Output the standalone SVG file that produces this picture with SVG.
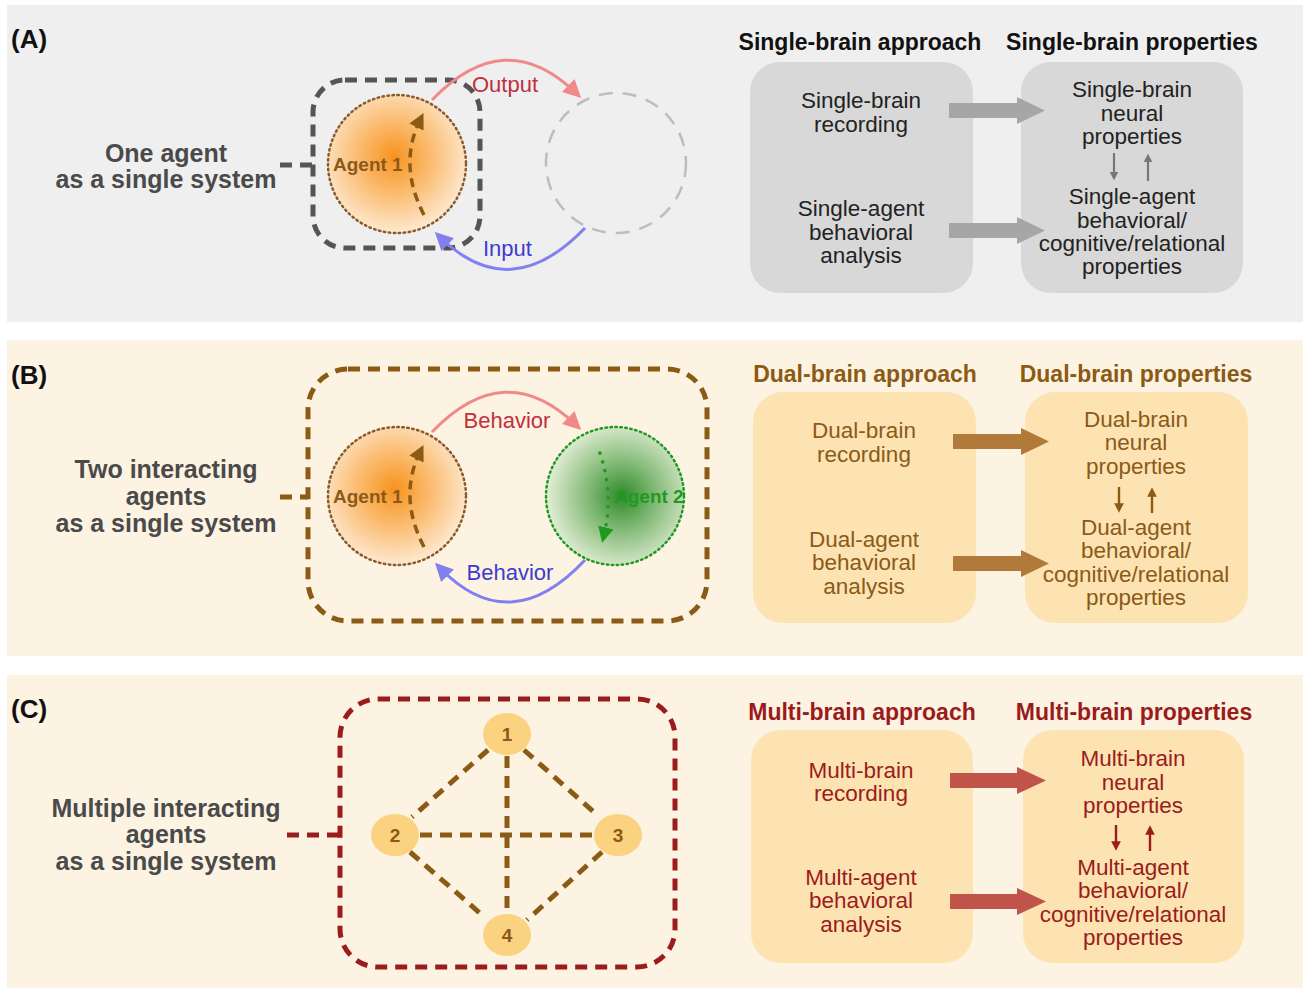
<svg xmlns="http://www.w3.org/2000/svg" width="1313" height="988" viewBox="0 0 1313 988">
<defs>
<style>
text{font-family:"Liberation Sans",Arial,sans-serif}
.lbl{font-size:26px;font-weight:bold;fill:#111}
.side{font-size:25px;font-weight:bold;fill:#4a4a4a;text-anchor:middle}
.ttl{font-size:23px;font-weight:bold;text-anchor:middle}
.bt{font-size:22.5px;text-anchor:middle}
.ag{font-size:19px;font-weight:bold}
.arcl{font-size:22px}
.num{font-size:19px;font-weight:bold;fill:#8b5a1a;text-anchor:middle}
.edge{stroke:#8b5a14;stroke-width:5;stroke-dasharray:12 8;fill:none}
</style>
<radialGradient id="gOr" cx="0.48" cy="0.45" r="0.55">
<stop offset="0" stop-color="#f7931e"/><stop offset="0.5" stop-color="#fbbd73"/><stop offset="1" stop-color="#fde9d0"/>
</radialGradient>
<radialGradient id="gGr" cx="0.55" cy="0.5" r="0.55">
<stop offset="0" stop-color="#2e8a2a"/><stop offset="0.5" stop-color="#8cbf80"/><stop offset="1" stop-color="#e3eed6"/>
</radialGradient>
<marker id="mPink" viewBox="0 0 10 10" refX="6" refY="5" markerWidth="6" markerHeight="6" orient="auto" markerUnits="strokeWidth"><path d="M0,0 L10,5 L0,10 z" fill="#f08a8a"/></marker>
<marker id="mBlue" viewBox="0 0 10 10" refX="6" refY="5" markerWidth="6" markerHeight="6" orient="auto" markerUnits="strokeWidth"><path d="M0,0 L10,5 L0,10 z" fill="#8080f0"/></marker>
<marker id="mBrown" viewBox="0 0 10 10" refX="5" refY="5" markerWidth="4.5" markerHeight="4.5" orient="auto" markerUnits="strokeWidth"><path d="M0,0 L10,5 L0,10 z" fill="#8b5a14"/></marker>
<marker id="mGreen" viewBox="0 0 10 10" refX="5" refY="5" markerWidth="4.5" markerHeight="4.5" orient="auto" markerUnits="strokeWidth"><path d="M0,0 L10,5 L0,10 z" fill="#1f9a1f"/></marker>
<marker id="sGray" viewBox="0 0 10 10" refX="5" refY="5" markerWidth="4" markerHeight="4" orient="auto" markerUnits="strokeWidth"><path d="M0,0 L10,5 L0,10 z" fill="#777"/></marker>
<marker id="sBrown" viewBox="0 0 10 10" refX="5" refY="5" markerWidth="4" markerHeight="4" orient="auto" markerUnits="strokeWidth"><path d="M0,0 L10,5 L0,10 z" fill="#8b5a14"/></marker>
<marker id="sRed" viewBox="0 0 10 10" refX="5" refY="5" markerWidth="4" markerHeight="4" orient="auto" markerUnits="strokeWidth"><path d="M0,0 L10,5 L0,10 z" fill="#9b1c1c"/></marker>
</defs>

<rect width="1313" height="988" fill="#ffffff"/>

<!-- Panel A -->
<g id="panelA">
<rect x="7" y="5" width="1296" height="317" fill="#efefef"/>
<text class="lbl" x="11" y="48">(A)</text>
<text class="side" x="166" y="162">One agent</text>
<text class="side" x="166" y="188">as a single system</text>
</g>
<g id="A-system">
<rect x="313" y="80" width="167" height="168" rx="32" fill="none" stroke="#555" stroke-width="5" stroke-dasharray="12 8"/>
</g>
<g id="A-agent1">
<circle cx="397" cy="164" r="69" fill="url(#gOr)" stroke="#8b5a2b" stroke-width="2.5" stroke-dasharray="1.5 3.5" stroke-linecap="round"/>
<text class="ag" x="333" y="171" fill="#8b5a1a">Agent 1</text>
</g>
<g id="A-other">
<circle cx="616" cy="163" r="70" fill="none" stroke="#bdbdbd" stroke-width="2.5" stroke-dasharray="14 10"/>
</g>
<g id="A-connectors">
<line x1="280" y1="165" x2="313" y2="165" stroke="#555" stroke-width="5" stroke-dasharray="12 8"/>
<path d="M424,215 Q398,165 420,120" fill="none" stroke="#8b5a14" stroke-width="3.5" stroke-dasharray="9 6" marker-end="url(#mBrown)"/>
<path d="M432,100 Q505,24 576,93" fill="none" stroke="#f08a8a" stroke-width="3" marker-end="url(#mPink)"/>
<path d="M585,228 Q510,306 440,237" fill="none" stroke="#8080f0" stroke-width="3" marker-end="url(#mBlue)"/>
<text class="arcl" x="472" y="92" fill="#c0303f">Output</text>
<text class="arcl" x="483" y="256" fill="#3c3cd0">Input</text>
</g>
<g id="A-approach">
<text class="ttl" x="860" y="50" fill="#111">Single-brain approach</text>
<rect x="750" y="62" width="223" height="231" rx="30" fill="#d8d8d8"/>
<text class="bt" x="861" y="108" fill="#222">Single-brain</text>
<text class="bt" x="861" y="132" fill="#222">recording</text>
<text class="bt" x="861" y="216" fill="#222">Single-agent</text>
<text class="bt" x="861" y="240" fill="#222">behavioral</text>
<text class="bt" x="861" y="263" fill="#222">analysis</text>
</g>
<g id="A-properties">
<text class="ttl" x="1132" y="50" fill="#111">Single-brain properties</text>
<rect x="1021" y="62" width="222" height="231" rx="30" fill="#d8d8d8"/>
<text class="bt" x="1132" y="97" fill="#222">Single-brain</text>
<text class="bt" x="1132" y="121" fill="#222">neural</text>
<text class="bt" x="1132" y="144" fill="#222">properties</text>
<text class="bt" x="1132" y="204" fill="#222">Single-agent</text>
<text class="bt" x="1132" y="228" fill="#222">behavioral/</text>
<text class="bt" x="1132" y="251" fill="#222">cognitive/relational</text>
<text class="bt" x="1132" y="274" fill="#222">properties</text>
</g>
<g id="A-arrows">
<polygon points="949,103 1017,103 1017,97 1045,110.5 1017,124 1017,118 949,118" fill="#a6a6a6"/>
<polygon points="949,223 1017,223 1017,217 1045,230.5 1017,244 1017,238 949,238" fill="#a6a6a6"/>
<line x1="1114" y1="153" x2="1114" y2="176" stroke="#777" stroke-width="2.2" marker-end="url(#sGray)"/>
<line x1="1148" y1="181" x2="1148" y2="158" stroke="#777" stroke-width="2.2" marker-end="url(#sGray)"/>
</g>

<!-- Panel B -->
<g id="panelB">
<rect x="7" y="340" width="1296" height="316" fill="#fdf3e2"/>
<text class="lbl" x="11" y="384">(B)</text>
<text class="side" x="166" y="478">Two interacting</text>
<text class="side" x="166" y="505">agents</text>
<text class="side" x="166" y="532">as a single system</text>
</g>
<g id="B-system">
<rect x="308" y="369" width="399" height="252" rx="40" fill="none" stroke="#8b5a14" stroke-width="5" stroke-dasharray="12 8"/>
</g>
<g id="B-agent1">
<circle cx="397" cy="496" r="69" fill="url(#gOr)" stroke="#8b5a2b" stroke-width="2.5" stroke-dasharray="1.5 3.5" stroke-linecap="round"/>
<text class="ag" x="333" y="503" fill="#8b5a1a">Agent 1</text>
</g>
<g id="B-agent2">
<circle cx="615" cy="496" r="69" fill="url(#gGr)" stroke="#1f9a1f" stroke-width="2.5" stroke-dasharray="1.5 3.5" stroke-linecap="round"/>
<text class="ag" x="614" y="503" fill="#1f9a1f">Agent 2</text>
</g>
<g id="B-connectors">
<line x1="280" y1="497" x2="308" y2="497" stroke="#8b5a14" stroke-width="5" stroke-dasharray="12 8"/>
<path d="M424,547 Q398,497 420,452" fill="none" stroke="#8b5a14" stroke-width="3.5" stroke-dasharray="9 6" marker-end="url(#mBrown)"/>
<path d="M600,453 Q614,495 604,535" fill="none" stroke="#1f9a1f" stroke-width="3.5" stroke-dasharray="0.1 9" stroke-linecap="round" marker-end="url(#mGreen)"/>
<path d="M432,432 Q505,356 576,425" fill="none" stroke="#f08a8a" stroke-width="3" marker-end="url(#mPink)"/>
<path d="M585,560 Q510,640 440,568" fill="none" stroke="#8080f0" stroke-width="3" marker-end="url(#mBlue)"/>
<text class="arcl" x="507" y="428" fill="#c0303f" text-anchor="middle">Behavior</text>
<text class="arcl" x="510" y="580" fill="#3c3cd0" text-anchor="middle">Behavior</text>
</g>
<g id="B-approach">
<text class="ttl" x="865" y="382" fill="#8b5a14">Dual-brain approach</text>
<rect x="753" y="392" width="223" height="231" rx="30" fill="#fce3b1"/>
<text class="bt" x="864" y="438" fill="#8b5a1a">Dual-brain</text>
<text class="bt" x="864" y="462" fill="#8b5a1a">recording</text>
<text class="bt" x="864" y="547" fill="#8b5a1a">Dual-agent</text>
<text class="bt" x="864" y="570" fill="#8b5a1a">behavioral</text>
<text class="bt" x="864" y="594" fill="#8b5a1a">analysis</text>
</g>
<g id="B-properties">
<text class="ttl" x="1136" y="382" fill="#8b5a14">Dual-brain properties</text>
<rect x="1025" y="392" width="223" height="231" rx="30" fill="#fce3b1"/>
<text class="bt" x="1136" y="427" fill="#8b5a1a">Dual-brain</text>
<text class="bt" x="1136" y="450" fill="#8b5a1a">neural</text>
<text class="bt" x="1136" y="474" fill="#8b5a1a">properties</text>
<text class="bt" x="1136" y="535" fill="#8b5a1a">Dual-agent</text>
<text class="bt" x="1136" y="558" fill="#8b5a1a">behavioral/</text>
<text class="bt" x="1136" y="582" fill="#8b5a1a">cognitive/relational</text>
<text class="bt" x="1136" y="605" fill="#8b5a1a">properties</text>
</g>
<g id="B-arrows">
<polygon points="953,434 1021,434 1021,428 1049,441.5 1021,455 1021,449 953,449" fill="#b17a3a"/>
<polygon points="953,556 1021,556 1021,550 1049,563.5 1021,577 1021,571 953,571" fill="#b17a3a"/>
<line x1="1119" y1="487" x2="1119" y2="508" stroke="#8b5a14" stroke-width="2.4" marker-end="url(#sBrown)"/>
<line x1="1152" y1="513" x2="1152" y2="492" stroke="#8b5a14" stroke-width="2.4" marker-end="url(#sBrown)"/>
</g>

<!-- Panel C -->
<g id="panelC">
<rect x="7" y="675" width="1296" height="313" fill="#fdf3e2"/>
<text class="lbl" x="11" y="718">(C)</text>
<text class="side" x="166" y="817">Multiple interacting</text>
<text class="side" x="166" y="843">agents</text>
<text class="side" x="166" y="870">as a single system</text>
</g>
<g id="C-system">
<rect x="340" y="699" width="335" height="268" rx="38" fill="none" stroke="#9b1c1c" stroke-width="5" stroke-dasharray="12 8"/>
</g>
<g id="C-connectors">
<line x1="287" y1="835" x2="340" y2="835" stroke="#9b1c1c" stroke-width="5" stroke-dasharray="12 8"/>
<line class="edge" x1="488" y1="750" x2="412" y2="817"/>
<line class="edge" x1="524" y1="750" x2="595" y2="813"/>
<line class="edge" x1="507" y1="756" x2="507" y2="913"/>
<line class="edge" x1="420" y1="835" x2="594" y2="835"/>
<line class="edge" x1="410" y1="852" x2="481" y2="914"/>
<line class="edge" x1="602" y1="852" x2="527" y2="920"/>
</g>
<g id="C-node1"><ellipse cx="507" cy="734" rx="24" ry="21" fill="#fbd27f"/><text class="num" x="507" y="741">1</text></g>
<g id="C-node2"><ellipse cx="395" cy="835" rx="24" ry="21" fill="#fbd27f"/><text class="num" x="395" y="842">2</text></g>
<g id="C-node3"><ellipse cx="618" cy="835" rx="24" ry="21" fill="#fbd27f"/><text class="num" x="618" y="842">3</text></g>
<g id="C-node4"><ellipse cx="507" cy="935" rx="24" ry="21" fill="#fbd27f"/><text class="num" x="507" y="942">4</text></g>
<g id="C-approach">
<text class="ttl" x="862" y="720" fill="#9b1a1a">Multi-brain approach</text>
<rect x="751" y="730" width="222" height="233" rx="30" fill="#fce3b1"/>
<text class="bt" x="861" y="778" fill="#9b1c1c">Multi-brain</text>
<text class="bt" x="861" y="801" fill="#9b1c1c">recording</text>
<text class="bt" x="861" y="885" fill="#9b1c1c">Multi-agent</text>
<text class="bt" x="861" y="908" fill="#9b1c1c">behavioral</text>
<text class="bt" x="861" y="932" fill="#9b1c1c">analysis</text>
</g>
<g id="C-properties">
<text class="ttl" x="1134" y="720" fill="#9b1a1a">Multi-brain properties</text>
<rect x="1023" y="730" width="221" height="233" rx="30" fill="#fce3b1"/>
<text class="bt" x="1133" y="766" fill="#9b1c1c">Multi-brain</text>
<text class="bt" x="1133" y="790" fill="#9b1c1c">neural</text>
<text class="bt" x="1133" y="813" fill="#9b1c1c">properties</text>
<text class="bt" x="1133" y="875" fill="#9b1c1c">Multi-agent</text>
<text class="bt" x="1133" y="898" fill="#9b1c1c">behavioral/</text>
<text class="bt" x="1133" y="922" fill="#9b1c1c">cognitive/relational</text>
<text class="bt" x="1133" y="945" fill="#9b1c1c">properties</text>
</g>
<g id="C-arrows">
<polygon points="950,773 1017,773 1017,767 1046,780.5 1017,794 1017,788 950,788" fill="#c0544a"/>
<polygon points="950,894 1017,894 1017,888 1046,901.5 1017,915 1017,909 950,909" fill="#c0544a"/>
<line x1="1116" y1="825" x2="1116" y2="846" stroke="#9b1c1c" stroke-width="2.4" marker-end="url(#sRed)"/>
<line x1="1150" y1="851" x2="1150" y2="830" stroke="#9b1c1c" stroke-width="2.4" marker-end="url(#sRed)"/>
</g>
</svg>
